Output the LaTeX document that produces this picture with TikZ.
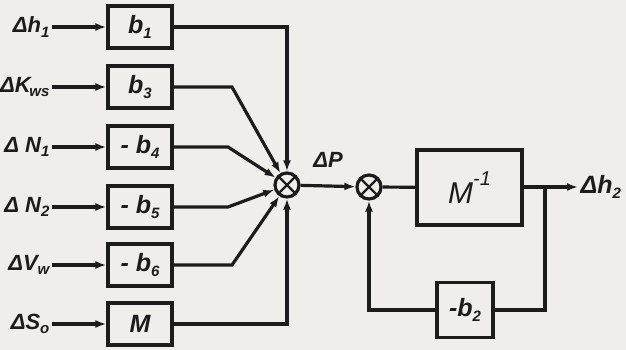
\documentclass[tikz,border=0pt]{standalone}
\usepackage{fontspec}
\setmainfont{Liberation Sans}
\usetikzlibrary{arrows.meta}
\definecolor{paper}{HTML}{EFEEEA}
\definecolor{ink}{HTML}{1C1C1C}
\newcommand\lsub[1]{\raisebox{-0.4ex}{\fontsize{15}{15}\selectfont #1}}
\newcommand\lsup[1]{\raisebox{1.1ex}{\fontsize{20}{20}\selectfont #1}}

\begin{document}
\begin{tikzpicture}[x=1pt,y=-1pt,
  line width=3.2pt, draw=ink, text=ink,
  arr/.style={-{Latex[length=11pt,width=8pt]}},
  blk/.style={draw, rectangle, minimum width=64pt, minimum height=42pt, inner sep=0pt,
    font=\fontsize{25}{25}\selectfont\bfseries\itshape},
  sumj/.style={draw, circle, minimum size=24pt, inner sep=0pt},
  lab/.style={anchor=east, inner sep=1pt, font=\fontsize{22}{22}\selectfont\bfseries\itshape},
  rlab/.style={anchor=west, inner sep=1pt, font=\fontsize{25}{25}\selectfont\bfseries\itshape}]

\useasboundingbox (0,0) rectangle (626,350);
\fill[paper] (0,0) rectangle (626,350);

% input gain blocks
\node[blk] (b1) at (140,27)  {b\lsub{1}};
\node[blk] (b3) at (140,87)  {b\lsub{3}};
\node[blk] (b4) at (140,147) {- b\lsub{4}};
\node[blk] (b5) at (140,207) {- b\lsub{5}};
\node[blk] (b6) at (140,265) {- b\lsub{6}};
\node[blk] (bM) at (140,324) {M};

% input signals
\node[lab] (ih1) at (52,27)  {Δh\lsub{1}};
\node[lab] (iK)  at (52,87)  {ΔK\kern-1.5pt\lsub{ws}};
\node[lab] (iN1) at (52,147) {Δ N\lsub{1}};
\node[lab] (iN2) at (52,207) {Δ N\lsub{2}};
\node[lab] (iV)  at (52,265) {ΔV\lsub{w}};
\node[lab] (iS)  at (52,324) {ΔS\lsub{o}};

\foreach \a/\b in {ih1/b1,iK/b3,iN1/b4,iN2/b5,iV/b6,iS/bM}
  \draw[arr] (\a) -- (\b);

% summing junctions
\node[sumj] (j1) at (287,185) {};
\node[sumj] (j2) at (369,187) {};
\foreach \j in {j1,j2}
  \draw[line width=2.4pt] (\j.45) -- (\j.225) (\j.135) -- (\j.315);

% kinks of the slanted inputs
\coordinate (k3) at (232,87);
\coordinate (k4) at (228,147);
\coordinate (k5) at (228,207);
\coordinate (k6) at (232,265);

\draw[arr] (b1.east) -| (j1);
\draw[arr] (b3.east) -- (k3) -- (j1);
\draw[arr] (b4.east) -- (k4) -- (j1);
\draw[arr] (b5.east) -- (k5) -- (j1);
\draw[arr] (b6.east) -- (k6) -- (j1);
\draw[arr] (bM.east) -| (j1);

\node[inner sep=0pt, font=\fontsize{22}{22}\selectfont\bfseries\itshape] (dP) at (328,160) {ΔP};

% plant with feedback
\node[blk, minimum width=105pt, minimum height=75pt,
      font=\fontsize{30}{30}\selectfont\itshape] (Mi) at (469.5,187.5) {M\lsup{-1}};
\node[blk, minimum width=56pt, minimum height=55pt] (b2) at (465,310) {-b\lsub{2}};
\node[rlab] (oh2) at (578,187) {Δh\lsub{2}};
\coordinate (br) at (545,187);

\draw[arr] (j1) -- (j2);
\draw (j2) -- (Mi);
\draw[arr] (Mi.east |- oh2.west) -- (oh2.west);
\draw (br) |- (b2.east);
\draw[arr] (b2.west) -| (j2);
\end{tikzpicture}
\end{document}
